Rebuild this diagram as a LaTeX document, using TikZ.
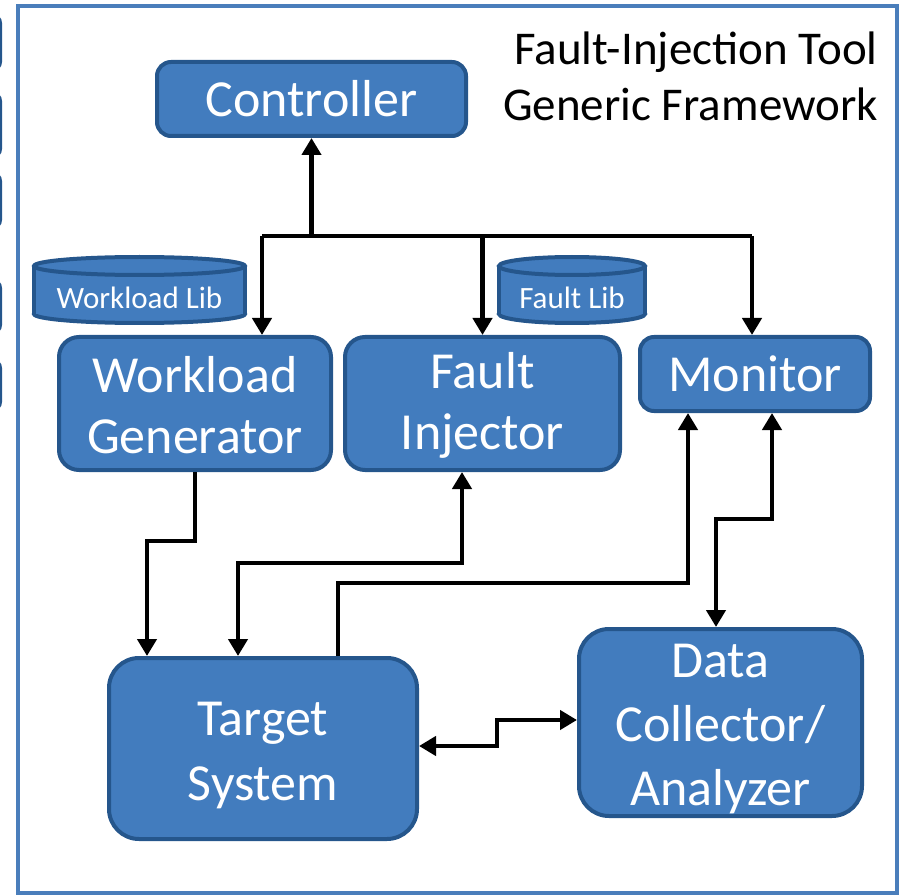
\documentclass[tikz,border=0pt]{standalone}
\usepackage{fontspec}
\setmainfont{Carlito}
\usetikzlibrary{arrows.meta}
\definecolor{boxfill}{RGB}{66,124,190}
\definecolor{boxline}{RGB}{37,86,140}
\definecolor{framecol}{RGB}{74,126,187}
\tikzset{
  block/.style={draw=boxline, fill=boxfill, line width=4pt, rounded corners=#1,
    text=white, align=center, inner sep=0pt,
    font=\fontsize{52}{63}\selectfont},
  block/.default=16pt,
  blocktext/.style={text=white, align=center, inner sep=0pt,
    font=\fontsize{52}{64}\selectfont},
  wire/.style={draw=black, line width=4.5pt, line join=miter},
  tip/.style={wire, -{Triangle[length=17pt,width=19pt]}},
  tips/.style={wire, {Triangle[length=17pt,width=19pt]}-{Triangle[length=17pt,width=19pt]}},
  libtext/.style={text=white, inner sep=0pt, font=\fontsize{31}{36}\selectfont},
  edgebox/.style={draw=boxline, fill=boxfill, line width=3pt, rounded corners=8pt},
}
\begin{document}
\begin{tikzpicture}[x=1pt, y=-1pt]
\useasboundingbox (0,0) rectangle (903,896);

% partly hidden shapes at the left edge
\foreach \a/\b in {15/70, 93/157, 173/228, 280/333, 360/410}
  \path[edgebox] (-40,\a) rectangle (0.5,\b);

% outer frame
\draw[framecol, line width=4pt] (18,6) rectangle (897,893);

% title
\node[anchor=east, align=right, inner sep=0pt, font=\fontsize{47}{56}\selectfont]
  (title) at (878,76) {Fault-Injection Tool\\Generic Framework};

% library cylinders
\foreach \cx/\rx in {139.5/105.5, 572/73} {
  \path[draw=boxline, fill=boxfill, line width=4pt] (\cx,314) ellipse [x radius=\rx pt, y radius=9pt];
  \fill[boxfill] (\cx-\rx,266) rectangle (\cx+\rx,314);
  \draw[boxline, line width=4pt] (\cx-\rx,266) -- (\cx-\rx,314) (\cx+\rx,266) -- (\cx+\rx,314);
  \path[draw=boxline, fill=boxfill, line width=4pt] (\cx,266) ellipse [x radius=\rx pt, y radius=9pt];
}
\node[libtext] (wlib) at (139.5,298) {Workload Lib};
\node[libtext] (flib) at (572,298) {Fault Lib};

% blocks (yshift is in page direction: negative moves text down)
\node[block=14pt, minimum width=309pt, minimum height=74pt] (ctrl) at (311.5,99) {Controller};
\node[block=20pt, minimum width=272pt, minimum height=133pt] (wg) at (195,403.5) {};
\node[blocktext, font=\fontsize{52}{61}\selectfont] (wgt) at ([yshift=-2pt]wg.center) {Workload\\Generator};
\node[block=20pt, minimum width=275pt, minimum height=133pt] (fi) at (482.5,403.5) {};
\node[blocktext, font=\fontsize{52}{61}\selectfont] (fit) at ([yshift=-2pt]fi.center) {Fault\\Injector};
\node[block=14pt, minimum width=230pt, minimum height=74pt] (mon) at (755,374) {Monitor};
\node[block=30pt, minimum width=308pt, minimum height=181pt] (ts) at (263,748.5) {};
\node[blocktext, font=\fontsize{52}{65}\selectfont] (tst) at ([yshift=-7pt]ts.center) {Target\\System};
\node[block=30pt, minimum width=283pt, minimum height=187pt] (dc) at (720.5,722.5) {};
\node[blocktext] (dct) at ([yshift=-7pt]dc.center) {Data\\Collector/\\Analyzer};

% controller bus
\coordinate (busL) at (262,236);
\coordinate (busR) at (752,236);
\draw[wire] (busL) -- (busR);
\draw[tip] (ctrl.south |- busL) -- (ctrl.south);
\draw[tip] (busL) -- (busL |- wg.north);
\draw[tip] (fi.north |- busL) -- (fi.north);
\draw[tip] (busR) -- (busR |- mon.north);

% workload generator to target
\coordinate (w1) at (195,541);
\coordinate (w2) at (147,541);
\draw[tip] (w1 |- wg.south) -- (w1) -- (w2) -- (w2 |- ts.north);

% fault injector and target
\coordinate (f1) at (462,563);
\coordinate (f2) at (238,563);
\draw[tips] (f1 |- fi.south) -- (f1) -- (f2) -- (f2 |- ts.north);

% target to monitor
\coordinate (t1) at (338,583);
\coordinate (t2) at (688,583);
\draw[tip] (t1 |- ts.north) -- (t1) -- (t2) -- (t2 |- mon.south);

% monitor and data collector
\coordinate (m1) at (772,519);
\coordinate (m2) at (716,519);
\draw[tips] (m1 |- mon.south) -- (m1) -- (m2) -- (m2 |- dc.north);

% target and data collector
\coordinate (d1) at (497,746);
\coordinate (d2) at (497,720);
\draw[tips] (ts.east |- d1) -- (d1) -- (d2) -- (dc.west |- d2);
\end{tikzpicture}
\end{document}
